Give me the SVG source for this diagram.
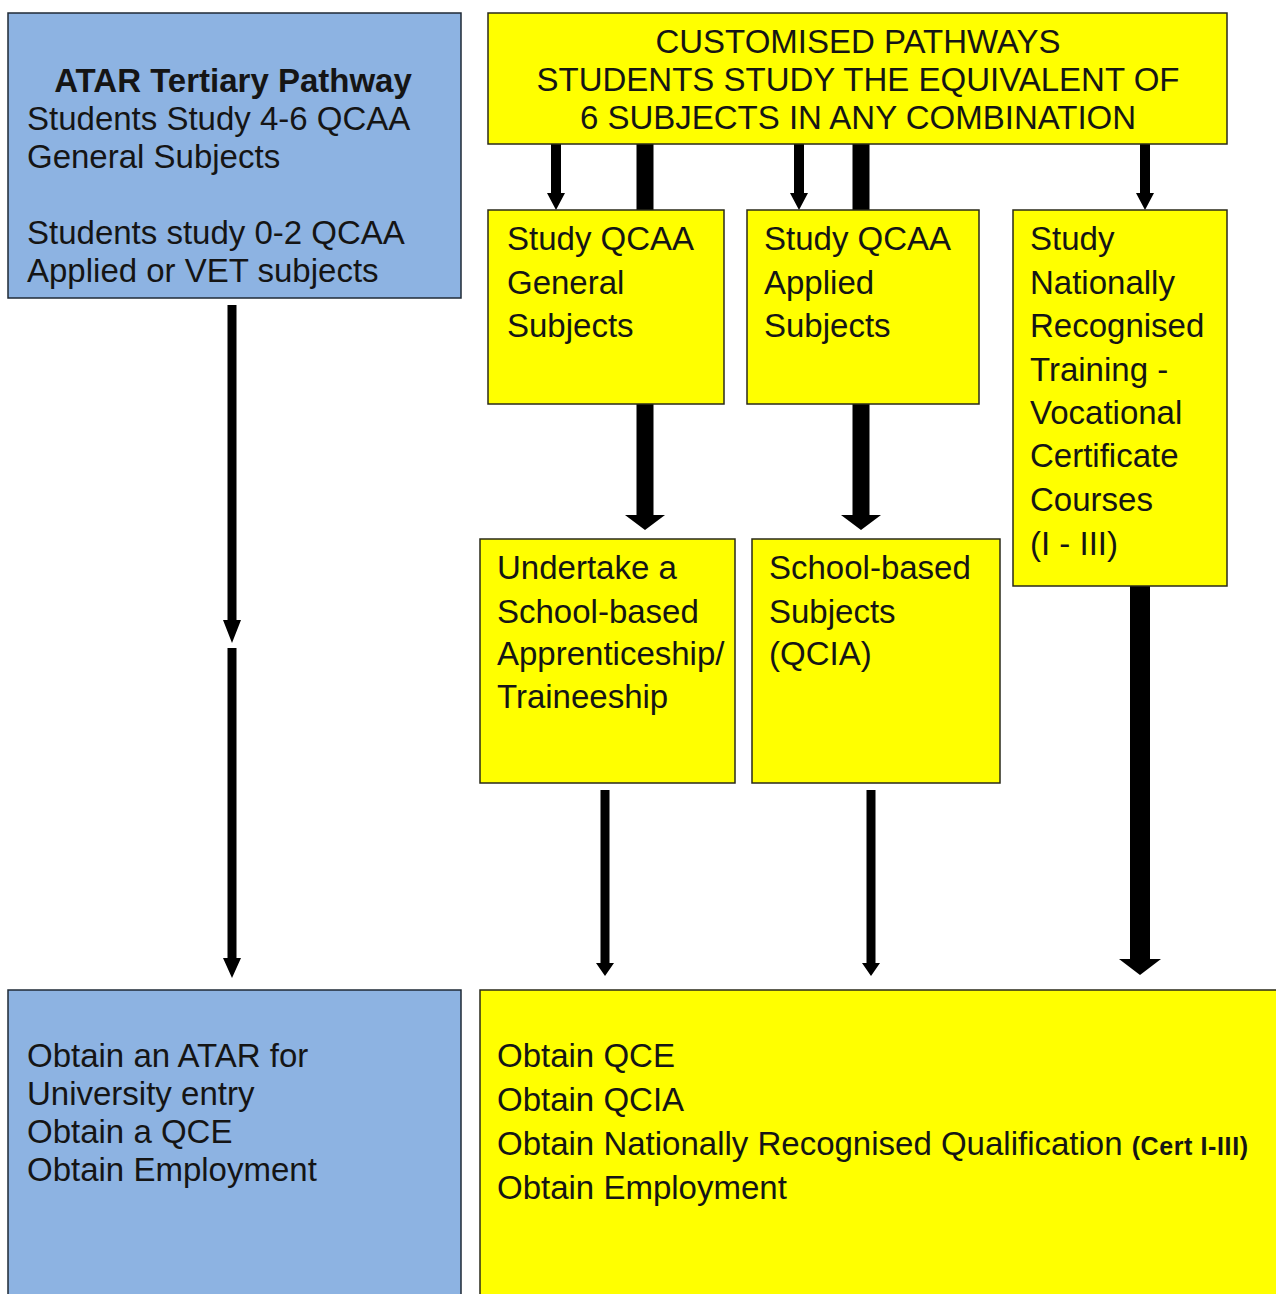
<svg xmlns="http://www.w3.org/2000/svg" width="1276" height="1294" viewBox="0 0 1276 1294">
<style>
.blue{fill:#8DB3E2;stroke:#1f2a36;stroke-width:1.5}
.yellow{fill:#FFFF00;stroke:#2a2a1a;stroke-width:1.5}
text{font-family:"Liberation Sans",Arial,sans-serif;font-size:33px;fill:#151515}
.b{font-weight:bold}
.c{text-anchor:middle}
.arrow{fill:#000}
</style>
<rect width="1276" height="1294" fill="#fff"/>
<g id="connectors">
<path class="arrow" d="M636.5,144 H653.5 V515 H665 L645,530 L625,515 H636.5 Z"/>
<path class="arrow" d="M852.5,144 H869.5 V515 H881 L861,530 L841,515 H852.5 Z"/>
<path class="arrow" d="M551,144 H561 V193 H565 L556,210 L547,193 H551 Z"/>
<path class="arrow" d="M794,144 H804 V193 H808 L799,210 L790,193 H794 Z"/>
<path class="arrow" d="M1140,144 H1150 V193 H1154 L1145,210 L1136,193 H1140 Z"/>
<path class="arrow" d="M227.5,305 H236.5 V620 H241 L232,643 L223,620 H227.5 Z"/>
<path class="arrow" d="M227.5,648 H236.5 V958 H241 L232,978 L223,958 H227.5 Z"/>
<path class="arrow" d="M600.5,790 H609.5 V963 H614 L605,976 L596,963 H600.5 Z"/>
<path class="arrow" d="M866.5,790 H875.5 V963 H880 L871,976 L862,963 H866.5 Z"/>
<path class="arrow" d="M1130,586 H1150 V959 H1161 L1140,975 L1119,959 H1130 Z"/>
</g>
<g id="atar-pathway">
<rect class="blue" x="8" y="13" width="453" height="285"/>
<text class="b c" x="233" y="92">ATAR Tertiary Pathway</text>
<text x="27" y="130">Students Study 4-6 QCAA</text>
<text x="27" y="168">General Subjects</text>
<text x="27" y="244">Students study 0-2 QCAA</text>
<text x="27" y="282">Applied or VET subjects</text>
</g>
<g id="customised-pathways">
<rect class="yellow" x="488" y="13" width="739" height="131"/>
<text class="c" x="858" y="53">CUSTOMISED PATHWAYS</text>
<text class="c" x="858" y="91">STUDENTS STUDY THE EQUIVALENT OF</text>
<text class="c" x="858" y="129">6 SUBJECTS IN ANY COMBINATION</text>
</g>
<g id="general-subjects">
<rect class="yellow" x="488" y="210" width="236" height="194"/>
<text x="507" y="250">Study QCAA</text>
<text x="507" y="294">General</text>
<text x="507" y="337">Subjects</text>
</g>
<g id="applied-subjects">
<rect class="yellow" x="747" y="210" width="232" height="194"/>
<text x="764" y="250">Study QCAA</text>
<text x="764" y="294">Applied</text>
<text x="764" y="337">Subjects</text>
</g>
<g id="vocational">
<rect class="yellow" x="1013" y="210" width="214" height="376"/>
<text x="1030" y="250">Study</text>
<text x="1030" y="294">Nationally</text>
<text x="1030" y="337">Recognised</text>
<text x="1030" y="381">Training -</text>
<text x="1030" y="424">Vocational</text>
<text x="1030" y="467">Certificate</text>
<text x="1030" y="511">Courses</text>
<text x="1030" y="555">(I - III)</text>
</g>
<g id="apprenticeship">
<rect class="yellow" x="480" y="539" width="255" height="244"/>
<text x="497" y="579">Undertake a</text>
<text x="497" y="623">School-based</text>
<text x="497" y="665">Apprenticeship/</text>
<text x="497" y="708">Traineeship</text>
</g>
<g id="school-based">
<rect class="yellow" x="752" y="539" width="248" height="244"/>
<text x="769" y="579">School-based</text>
<text x="769" y="623">Subjects</text>
<text x="769" y="665">(QCIA)</text>
</g>
<g id="atar-outcomes">
<rect class="blue" x="8" y="990" width="453" height="330"/>
<text x="27" y="1067">Obtain an ATAR for</text>
<text x="27" y="1105">University entry</text>
<text x="27" y="1143">Obtain a QCE</text>
<text x="27" y="1181">Obtain Employment</text>
</g>
<g id="customised-outcomes">
<rect class="yellow" x="480" y="990" width="820" height="330"/>
<text x="497" y="1067">Obtain QCE</text>
<text x="497" y="1111">Obtain QCIA</text>
<text x="497" y="1155">Obtain Nationally Recognised Qualification <tspan class="b" font-size="25" letter-spacing="0.6">(Cert I-III)</tspan></text>
<text x="497" y="1199">Obtain Employment</text>
</g>
</svg>
